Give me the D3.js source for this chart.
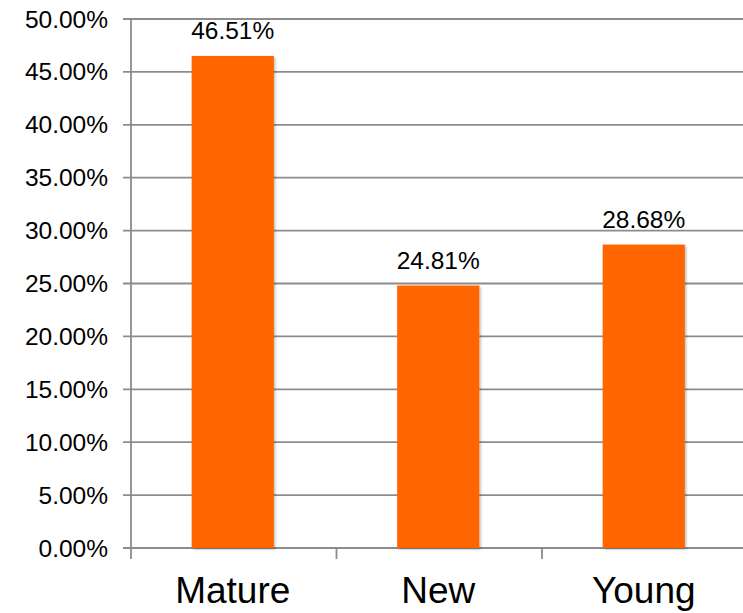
<!DOCTYPE html>
<html>
<head>
<meta charset="utf-8">
<script src="https://cdn.jsdelivr.net/npm/d3@7"></script>
<style>
  html, body { margin: 0; padding: 0; background: #fff; }
  svg { display: block; font-family: "Liberation Sans", Arial, sans-serif; }
</style>
</head>
<body>
<svg id="chart" width="743" height="613"></svg>
<script>
// Share of customers by segment
const categories = ["Mature", "New", "Young"];
const shares = [46.51, 24.81, 28.68];
const yTicks = [0, 5, 10, 15, 20, 25, 30, 35, 40, 45, 50];

const svg = d3.select("#chart");
const plotLeft = 130, plotRight = 746.5, plotTop = 19, plotBottom = 548;

const x = d3.scaleBand().domain(categories).range([plotLeft, plotRight]).paddingInner(0.6).paddingOuter(0.3);
const y = d3.scaleLinear().domain([0, 50]).range([plotBottom, plotTop]);

const defs = svg.append("defs");
const f = defs.append("filter").attr("id", "shadow").attr("x", "-10%").attr("y", "-10%").attr("width", "130%").attr("height", "130%");
f.append("feDropShadow").attr("dx", 1.5).attr("dy", 1.5).attr("stdDeviation", 1.2).attr("flood-color", "#000").attr("flood-opacity", 0.25);

const lineColor = "#8c8c8c";

// horizontal gridlines
svg.append("g").selectAll("line").data(yTicks).join("line")
  .attr("x1", plotLeft - 7).attr("x2", 743)
  .attr("y1", d => y(d)).attr("y2", d => y(d))
  .attr("stroke", lineColor).attr("stroke-width", 1.8);

// y axis line
svg.append("line").attr("x1", plotLeft + 1).attr("x2", plotLeft + 1).attr("y1", plotTop).attr("y2", plotBottom)
  .attr("stroke", lineColor).attr("stroke-width", 1.8);

// y tick labels
svg.append("g").selectAll("text").data(yTicks).join("text")
  .attr("x", 108).attr("y", d => y(d) + 8.5)
  .attr("text-anchor", "end").attr("font-size", 24.5).attr("fill", "#000")
  .text(d => d.toFixed(2) + "%");

// category boundary ticks below the axis
const step = x.step();
const bounds = d3.range(categories.length + 1).map(i => plotLeft + 1 + i * step);
svg.append("g").selectAll("line").data(bounds).join("line")
  .attr("x1", d => d).attr("x2", d => d)
  .attr("y1", plotBottom).attr("y2", plotBottom + 11)
  .attr("stroke", lineColor).attr("stroke-width", 1.8);

// bars
svg.append("g").selectAll("rect").data(categories).join("rect")
  .attr("x", d => x(d)).attr("width", x.bandwidth())
  .attr("y", (d, i) => y(shares[i])).attr("height", (d, i) => plotBottom - y(shares[i]))
  .attr("fill", "#ff6600").attr("filter", "url(#shadow)");

// value labels
svg.append("g").selectAll("text").data(categories).join("text")
  .attr("x", d => x(d) + x.bandwidth() / 2)
  .attr("y", (d, i) => y(shares[i]) - 17)
  .attr("text-anchor", "middle").attr("font-size", 24.5).attr("fill", "#000")
  .text((d, i) => shares[i].toFixed(2) + "%");

// category labels
svg.append("g").selectAll("text").data(categories).join("text")
  .attr("x", d => x(d) + x.bandwidth() / 2)
  .attr("y", 603)
  .attr("text-anchor", "middle").attr("font-size", 37).attr("fill", "#000")
  .text(d => d);
</script>
</body>
</html>
